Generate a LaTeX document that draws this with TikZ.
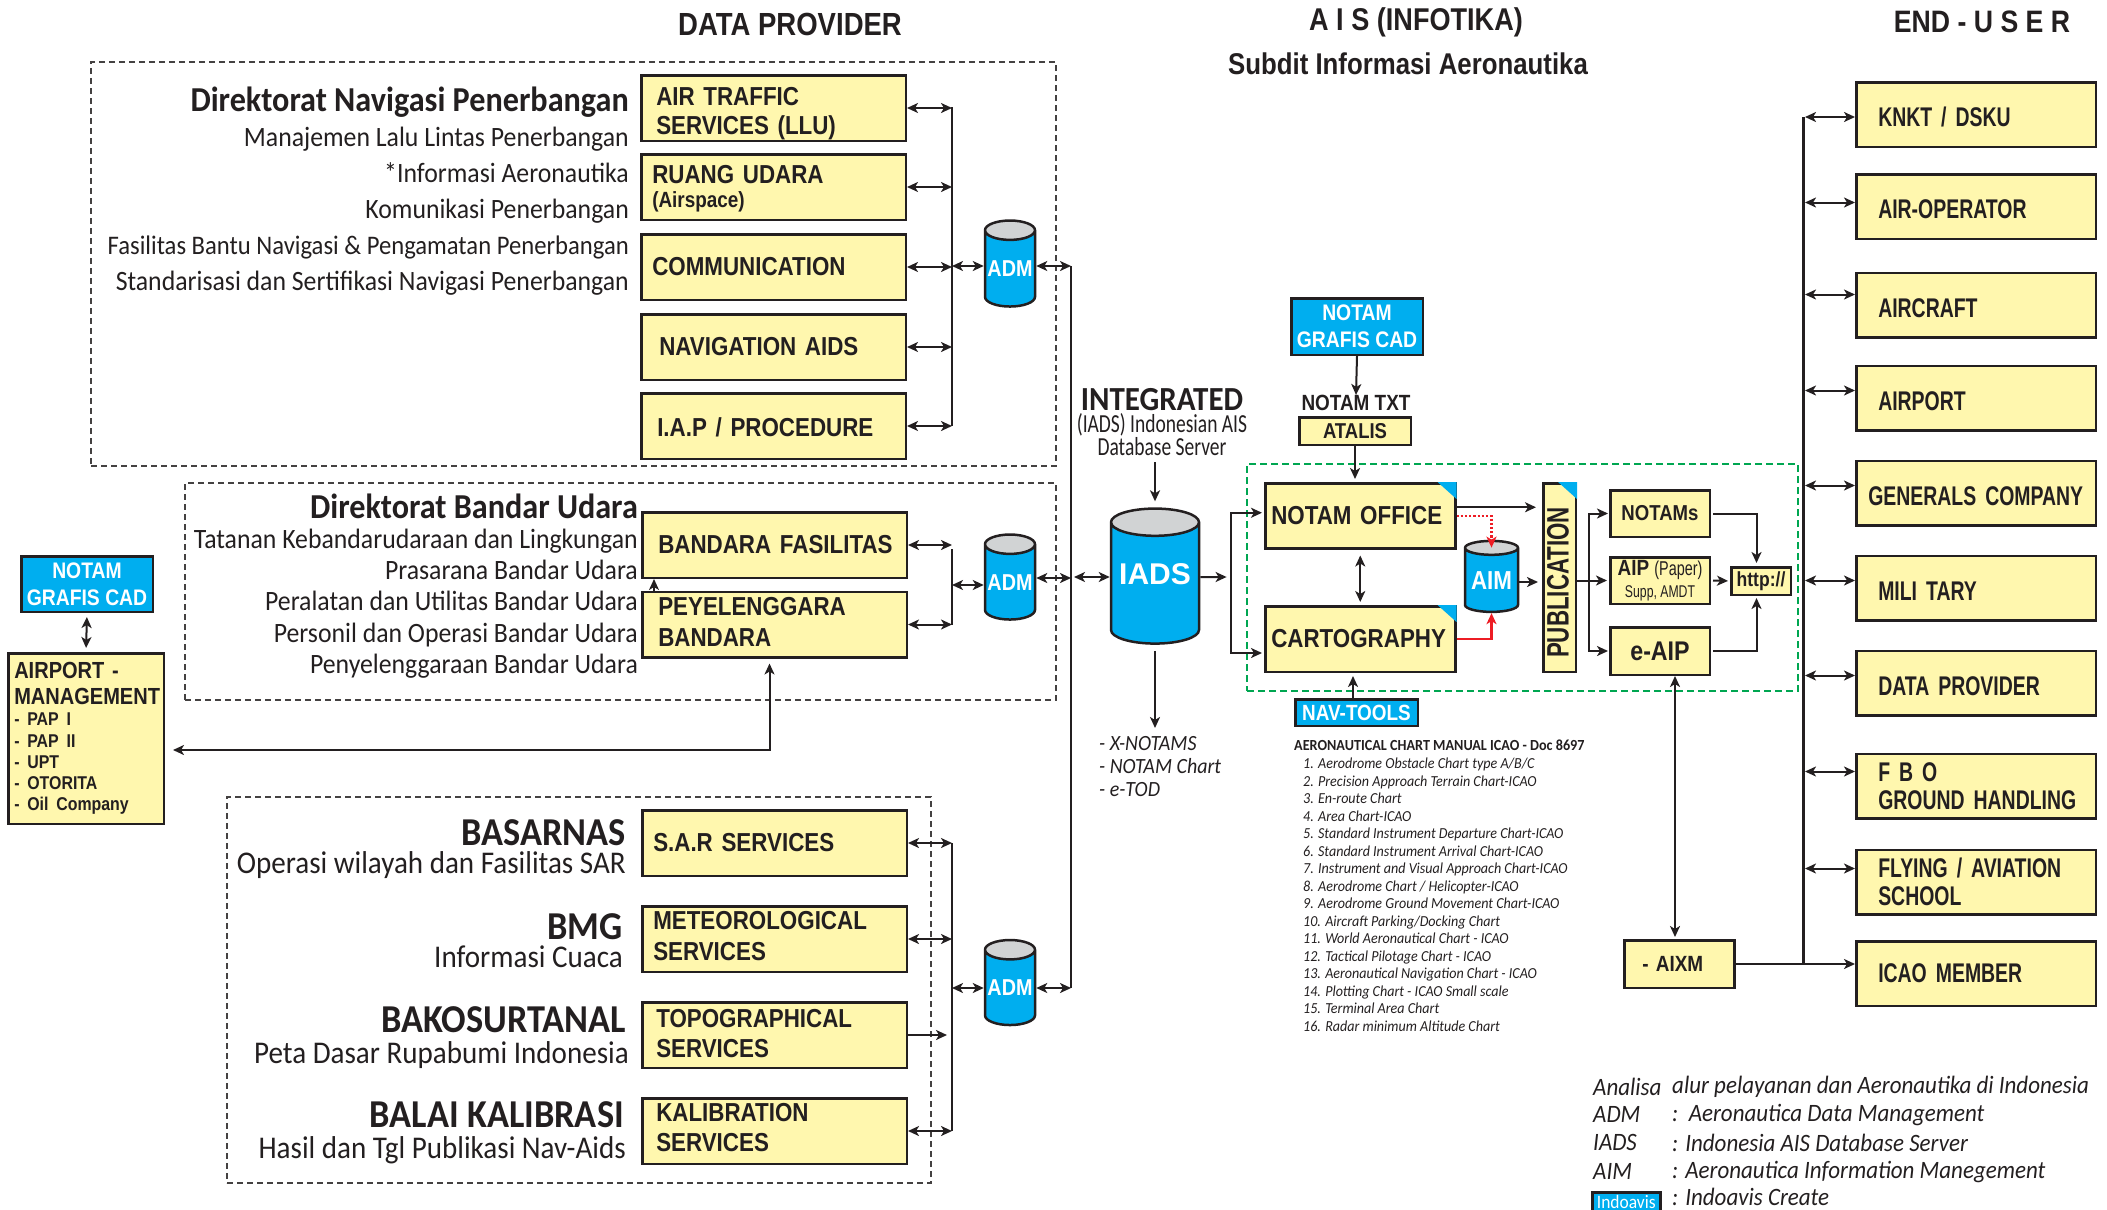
\documentclass[tikz,border=0pt]{standalone}
\usepackage{fontspec}
\setmainfont[FakeStretch=0.92]{Carlito}
\newfontfamily\narrowfont[FakeStretch=0.75]{Carlito}
\newfontfamily\boxfont[FakeStretch=0.86]{Liberation Sans}
\newfontfamily\pubfont[FakeStretch=0.72]{Liberation Sans}
\newfontfamily\widefont{Liberation Sans}
\usetikzlibrary{positioning,arrows.meta,shapes.geometric,calc}
\definecolor{ybox}{HTML}{FFF7AE}
\definecolor{cbox}{HTML}{00AEEF}
\definecolor{inkc}{HTML}{231F20}
\definecolor{capc}{HTML}{D1D3D4}
\definecolor{greenc}{HTML}{00A651}
\definecolor{redc}{HTML}{ED1C24}
\newcommand\fs[2]{\fontsize{#1}{#2}\selectfont}
\tikzstyle{yellowbox}=[rectangle, draw=inkc, fill=ybox, line width=2.5pt, text=inkc, minimum height=65.5pt, inner ysep=0pt, align=left, font=\boxfont\bfseries\fs{26}{29}]
\tikzstyle{enduser}=[yellowbox, minimum height=64.5pt, inner xsep=22pt, text width=195.5pt, font=\pubfont\bfseries\fs{27}{28}]
\tikzstyle{bluebox}=[rectangle, draw=inkc, fill=cbox, line width=2.5pt, text=white, inner sep=0pt, align=center, font=\boxfont\bfseries\fs{22.5}{27}]
\tikzstyle{dashbox}=[rectangle, draw=inkc!85, line width=2pt, dash pattern=on 6pt off 4pt, inner sep=0pt]
\tikzstyle{store}=[cylinder, shape border rotate=90, draw=inkc, line width=2.5pt, cylinder uses custom fill, cylinder end fill=capc, cylinder body fill=cbox, inner sep=0pt, text=white]
\tikzstyle{dirtitle}=[anchor=east, inner sep=0pt, text=inkc, font=\bfseries\fs{35}{38}]
\tikzstyle{suptitle}=[dirtitle, font=\bfseries\fs{39.5}{42}]
\tikzstyle{dirtext}=[anchor=east, inner sep=0pt, text=inkc, align=right, font=\fs{28}{36}]
\tikzstyle{suptext}=[dirtext, font=\fs{31.6}{36}]
\tikzstyle{head}=[inner sep=0pt, text=inkc, font=\boxfont\bfseries\fs{30}{34}]
\tikzstyle{listtext}=[anchor=north west, inner sep=0pt, text=inkc, align=left]
\tikzstyle{legend}=[anchor=west, inner sep=0pt, text=inkc, font=\itshape\fs{25}{28}]
\tikzstyle{line}=[-, draw=inkc, line width=1.7pt]
\tikzstyle{aline}=[-{Stealth[length=11pt,width=10pt,inset=3pt]}, draw=inkc, line width=2pt]
\tikzstyle{dline}=[{Stealth[length=11pt,width=10pt,inset=3pt]}-{Stealth[length=11pt,width=10pt,inset=3pt]}, draw=inkc, line width=2pt]
\tikzstyle{redline}=[-{Stealth[length=11pt,width=10pt,inset=3pt]}, draw=redc, line width=2.2pt]
\begin{document}
\begin{tikzpicture}[x=1pt, y=-1pt, node distance=0pt]
\useasboundingbox (0,0) rectangle (2107,1210);

% dashed groups
    \node (dirnav) [dashbox, minimum width=965pt, minimum height=404pt] at (573.5,264) {};
    \node (dirbdr) [dashbox, minimum width=871pt, minimum height=217pt] at (620.5,591.5) {};
    \node (dirsup) [dashbox, minimum width=704pt, minimum height=386pt] at (579,990) {};
    \node (ais) [dashbox, draw=greenc, line width=2.5pt, dash pattern=on 7pt off 4pt, minimum width=551pt, minimum height=227pt] at (1522.5,577.5) {};

% headings
    \node (headdp) [head, font=\boxfont\bfseries\fs{32}{34}] at (790,24) {DATA PROVIDER};
    \node (headais) [head, font=\boxfont\bfseries\fs{31.5}{34}] at (1416,22.5) {A I S (INFOTIKA)};
    \node (headsub) [head] at (1408,64) {Subdit Informasi Aeronautika};
    \node (headeu) [head, font=\boxfont\bfseries\fs{31}{34}] at (1982,22) {END - U S E R};

% navigasi
    \node (ats) [yellowbox, anchor=north west, inner xsep=15pt, text width=234.5pt] at (640,74) {\rule{0pt}{30pt}AIR TRAFFIC\\SERVICES (LLU)};
    \node (ruang) [yellowbox, below=11pt of ats, inner xsep=11pt, text width=242.5pt] {\rule{0pt}{21.5pt}RUANG UDARA\\[-5pt]{\fs{22}{24}(Airspace)}};
    \node (comm) [yellowbox, below=12pt of ruang, inner xsep=11pt, text width=242.5pt] {COMMUNICATION};
    \node (navaids) [yellowbox, below=12pt of comm, inner xsep=18pt, text width=228.5pt] {NAVIGATION AIDS};
    \node (iap) [yellowbox, below=11pt of navaids, inner xsep=16pt, text width=232.5pt] {\rule{0pt}{21.5pt}I.A.P / PROCEDURE};

    \node (navt) [dirtitle] at (629,102) {Direktorat Navigasi Penerbangan};
    \node (navl) [dirtext] at (629,211.5) {Manajemen Lalu Lintas Penerbangan\\*Informasi Aeronautika\\Komunikasi Penerbangan\\{\fs{26.8}{36}Fasilitas Bantu Navigasi \& Pengamatan Penerbangan}\\Standarisasi dan Sertifikasi Navigasi Penerbangan};

% bandar udara
    \node (bandara) [yellowbox, anchor=north west, inner xsep=16pt, text width=232.5pt] at (641,511) {\mbox{BANDARA FASILITAS}};
    \node (peye) [yellowbox, below=11.5pt of bandara, inner xsep=16pt, text width=232.5pt, font=\boxfont\bfseries\fs{26}{30.5}] {PEYELENGGARA\\BANDARA\par\vspace*{5pt}};

    \node (bdrt) [dirtitle] at (638,506) {Direktorat Bandar Udara};
    \node (bdrl) [dirtext, font=\fs{28}{31.2}] at (638,603.5) {Tatanan Kebandarudaraan dan Lingkungan\\Prasarana Bandar Udara\\Peralatan dan Utilitas Bandar Udara\\Personil dan Operasi Bandar Udara\\Penyelenggaraan Bandar Udara};

% pendukung
    \node (sar) [yellowbox, anchor=north west, inner xsep=11pt, text width=242.5pt] at (641,809) {S.A.R SERVICES};
    \node (met) [yellowbox, below=28pt of sar, inner xsep=11pt, text width=242.5pt, font=\boxfont\bfseries\fs{26}{30.5}] {METEOROLOGICAL\\SERVICES\par\vspace*{6pt}};
    \node (topo) [yellowbox, below=28pt of met, inner xsep=14pt, text width=236.5pt, font=\boxfont\bfseries\fs{26}{30.5}] {TOPOGRAPHICAL\\SERVICES\par\vspace*{3pt}};
    \node (kal) [yellowbox, below=28pt of topo, inner xsep=14pt, text width=236.5pt, font=\boxfont\bfseries\fs{26}{30.5}] {KALIBRATION\\SERVICES\par\vspace*{7pt}};

    \node (sart) [suptitle] at (626,833) {BASARNAS};
    \node (sarl) [suptext] at (626,865.5) {Operasi wilayah dan Fasilitas SAR};
    \node (bmgt) [suptitle] at (623,927) {BMG};
    \node (bmgl) [suptext] at (623,957) {Informasi Cuaca};
    \node (bakt) [suptitle] at (626,1020) {BAKOSURTANAL};
    \node (bakl) [suptext] at (629,1055) {Peta Dasar Rupabumi Indonesia};
    \node (balt) [suptitle] at (624,1115) {BALAI KALIBRASI};
    \node (ball) [suptext] at (626,1150) {Hasil dan Tgl Publikasi Nav-Aids};

% airport
    \node (notaml) [bluebox, minimum width=131.5pt, minimum height=55.5pt] at (87,584) {NOTAM\\GRAFIS CAD};
    \node (airportm) [yellowbox, anchor=north west, inner xsep=6pt, text width=143.5pt, minimum height=170.5pt, font=\boxfont\bfseries\fs{23.3}{26}] at (7,652) {AIRPORT -\\MANAGEMENT\\{\fs{18.5}{21.3}- PAP I\\- PAP II\\- UPT\\- OTORITA\\- Oil Company\par}};

% stores
    \node (admnav) [store, minimum width=50pt, minimum height=86pt, aspect=0.43, font=\boxfont\bfseries\fs{23}{26}] at (1010,269) {ADM};
    \node (admbdr) [store, minimum width=50pt, minimum height=85pt, aspect=0.43, font=\boxfont\bfseries\fs{23}{26}] at (1010,582.5) {ADM};
    \node (admsup) [store, minimum width=50pt, minimum height=85pt, aspect=0.43, font=\boxfont\bfseries\fs{23}{26}] at (1010,988) {ADM};
    \node (iads) [store, minimum width=88pt, minimum height=135pt, aspect=0.38, font=\widefont\bfseries\fs{30}{32}] at (1155,583.5) {\raisebox{19pt}{IADS}};

    \node (intt) [inner sep=0pt, text=inkc, font=\bfseries\fs{33.7}{36}] at (1162,400) {INTEGRATED};
    \node (intl) [inner sep=0pt, text=inkc, align=center, font=\narrowfont\fs{26}{23}] at (1162,435) {(IADS) Indonesian AIS\\Database Server};
    \node (iadsout) [listtext, font=\itshape\fs{21.7}{23}] at (1099,736) {- X-NOTAMS\\- NOTAM Chart\\- e-TOD};

% infotika
    \node (notamg) [bluebox, minimum width=131.5pt, minimum height=56.5pt] at (1357,326.5) {NOTAM\\GRAFIS CAD};
    \node (notamtxt) [inner sep=0pt, text=inkc, font=\boxfont\bfseries\fs{22}{24}] at (1356,403) {NOTAM TXT};
    \node (atalis) [yellowbox, minimum width=111.5pt, minimum height=27.5pt, font=\boxfont\bfseries\fs{21.5}{24}] at (1355,431) {ATALIS};
    \node (notam) [yellowbox, anchor=north west, inner xsep=6pt, text width=178pt, minimum height=65pt] at (1264,482) {NOTAM OFFICE};
    \node (carto) [yellowbox, anchor=north west, inner xsep=6pt, text width=178pt, minimum height=65.5pt] at (1264,605) {CARTOGRAPHY};
    \node (aim) [store, minimum width=53pt, minimum height=71pt, aspect=0.34, font=\boxfont\bfseries\fs{26}{28}] at (1491.5,580.5) {AIM};
    \node (pub) [yellowbox, minimum width=32.5pt, minimum height=188.5pt, inner sep=0pt] at (1559.5,577.5) {};
    \node (publabel) [rotate=90, inner sep=0pt, text=inkc, font=\pubfont\bfseries\fs{31}{32}] at ($(pub.center)+(-1.5,5)$) {PUBLICATION};
    \node (notams) [yellowbox, minimum width=99.5pt, minimum height=46.5pt, font=\boxfont\bfseries\fs{21.6}{24}] at (1660,513.5) {NOTAMs};
    \node (aip) [yellowbox, minimum width=99.5pt, minimum height=46.5pt, align=center, font=\boxfont\bfseries\fs{22}{24}] at (1660,580.5) {AIP {\pubfont\mdseries\fs{20}{24}(Paper)}\\[-2pt]{\pubfont\mdseries\fs{17}{19}Supp, AMDT}};
    \node (eaip) [yellowbox, minimum width=99.5pt, minimum height=47.5pt, font=\boxfont\bfseries\fs{27}{28}] at (1660,651) {e-AIP};
    \node (http) [yellowbox, minimum width=59.5pt, minimum height=27.5pt, font=\boxfont\bfseries\fs{20.4}{22}] at (1761,581) {http://};
    \node (navtools) [bluebox, minimum width=122.5pt, minimum height=26.5pt, font=\boxfont\bfseries\fs{22}{24}] at (1356.5,712.5) {NAV-TOOLS};
    \node (aixm) [yellowbox, anchor=north west, inner xsep=18pt, text width=74pt, minimum height=47.5pt, font=\boxfont\bfseries\fs{22}{24}] at (1623,939) {- AIXM};

    \node (chartt) [listtext, font=\bfseries\fs{15.4}{17}] at (1294,740) {AERONAUTICAL CHART MANUAL ICAO - Doc 8697};
    \node (chartl) [listtext, below right=7pt and 9pt of chartt.south west, font=\itshape\fs{15.3}{17.5}] {1. Aerodrome Obstacle Chart type A/B/C\\2. Precision Approach Terrain Chart-ICAO\\3. En-route Chart\\4. Area Chart-ICAO\\5. Standard Instrument Departure Chart-ICAO\\6. Standard Instrument Arrival Chart-ICAO\\7. Instrument and Visual Approach Chart-ICAO\\8. Aerodrome Chart / Helicopter-ICAO\\9. Aerodrome Ground Movement Chart-ICAO\\10. Aircraft Parking/Docking Chart\\11. World Aeronautical Chart - ICAO\\12. Tactical Pilotage Chart - ICAO\\13. Aeronautical Navigation Chart - ICAO\\14. Plotting Chart - ICAO Small scale\\15. Terminal Area Chart\\16. Radar minimum Altitude Chart};

% end users
    \node (knkt) [enduser, anchor=north west] at (1855,81) {\rule{0pt}{25pt}KNKT / DSKU};
    \node (airop) [enduser, below=25pt of knkt] {\rule{0pt}{25pt}AIR-OPERATOR};
    \node (aircraft) [enduser, below=31.5pt of airop] {\rule{0pt}{25pt}AIRCRAFT};
    \node (airprt) [enduser, below=26pt of aircraft] {\rule{0pt}{25pt}AIRPORT};
    \node (generals) [enduser, below=28pt of airprt, inner xsep=12pt, text width=215.5pt] {\rule{0pt}{25pt}GENERALS COMPANY};
    \node (military) [enduser, below=28pt of generals] {\rule{0pt}{25pt}MILI TARY};
    \node (dataprov) [enduser, below=28pt of military] {\rule{0pt}{25pt}DATA PROVIDER};
    \node (fbo) [enduser, below=36pt of dataprov] {F B O\\\mbox{GROUND HANDLING}};
    \node (flying) [enduser, below=29pt of fbo] {FLYING / AVIATION\\SCHOOL};
    \node (icao) [enduser, below=24.5pt of flying] {ICAO MEMBER};

% legend
    \node (lga) [legend] at (1593,1086.5) {Analisa};
    \node (lgb) [legend] at (1672,1086.5) {alur pelayanan dan Aeronautika di Indonesia};
    \node (lgc) [legend] at (1593,1114.5) {ADM};
    \node (lgd) [legend] at (1672,1114.5) {:\ \ Aeronautica Data Management};
    \node (lge) [legend] at (1593,1142.5) {IADS};
    \node (lgf) [legend] at (1672,1142.5) {: Indonesia AIS Database Server};
    \node (lgg) [legend] at (1593,1171.5) {AIM};
    \node (lgh) [legend] at (1672,1171.5) {: Aeronautica Information Manegement};
    \node (indo) [bluebox, anchor=north west, minimum width=68pt, minimum height=19pt, font=\fs{19}{20}] at (1591,1191) {Indoavis};
    \node (lgi) [legend] at (1672,1197) {: Indoavis Create};

% corner flags
    \fill[cbox] (notam.north east) -- ++(-19,0) -- ++(19,17) -- cycle;
    \fill[cbox] (carto.north east) -- ++(-19,0) -- ++(19,17) -- cycle;
    \fill[cbox] (pub.north east) -- ++(-19,0) -- ++(19,17) -- cycle;

    \coordinate (navbus) at (952,107);
    \coordinate (bdrbus) at (952,549);
    \coordinate (supbus) at (952,843);
    \coordinate (trunk) at (1071,266);
    \coordinate (iadssplit) at (1230.6,577);
    \coordinate (pubsplit) at (1589,582);
    \coordinate (endbus) at (1803,117);

% bus lines
   \draw[line] (navbus) -- (navbus |- iap.east);
   \draw[line] (bdrbus) -- (bdrbus |- peye.east);
   \draw[line] (supbus) -- (supbus |- kal.east);
   \draw[line, line width=2.2pt] (trunk) -- (trunk |- admsup.east);
   \draw[line, line width=3pt] (endbus) -- (endbus |- aixm.east);

   \foreach \n in {ats,ruang,comm,navaids,iap}
       \draw[dline] (\n.east) -- (\n.east -| navbus);
   \foreach \n in {bandara,peye}
       \draw[dline] (\n.east) -- (\n.east -| bdrbus);
   \foreach \n in {sar,met,kal}
       \draw[dline] (\n.east) -- (\n.east -| supbus);
   \draw[aline] (topo.east) -- ([xshift=-5pt]topo.east -| supbus);

%adm lines
   \draw[dline] ([yshift=3pt]admnav.west) -- ([yshift=3pt]admnav.west -| navbus);
   \draw[dline] ([yshift=-2.5pt]admbdr.west) -- ([yshift=-2.5pt]admbdr.west -| bdrbus);
   \draw[dline] (admsup.west) -- (admsup.west -| supbus);
   \draw[dline] ([yshift=3pt]admnav.east) -- ([yshift=3pt]admnav.east -| trunk);
   \draw[dline] ([yshift=4.5pt]admbdr.east) -- ([yshift=4.5pt]admbdr.east -| trunk);
   \draw[dline] (admsup.east) -- (admsup.east -| trunk);
   \draw[dline, shorten <=3pt] ([yshift=6.5pt]iads.west -| trunk) -- ([yshift=6.5pt]iads.west);

%airport lines
   \draw[aline, line width=1.5pt] (peye.north -| 654,0) -- (bandara.south -| 654,0);
   \draw[dline, shorten <=5pt, shorten >=8pt] ([xshift=-5pt]peye.south) |- ([yshift=-11.5pt]airportm.east);
   \draw[dline, shorten <=4pt, shorten >=4pt] (notaml.south) -- (airportm.north);

%iads lines
   \draw[aline] (iads.north |- 0,462) -- ([yshift=6pt]iads.north);
   \draw[aline, shorten <=6pt] (iads.south) -- (iads.south |- 0,728);
   \draw[aline, shorten >=4pt] ([yshift=6.5pt]iads.east) -- (iadssplit);
   \draw[aline, shorten >=2pt] (iadssplit) |- ([yshift=3pt]notam.west);
   \draw[aline, shorten >=2pt] (iadssplit) |- ([yshift=-14pt]carto.west);

%infotika lines
   \draw[aline] (notamg.south) -- (notamtxt.north);
   \draw[aline, shorten >=3pt] (atalis.south) -- (notam.north -| atalis.south);
   \draw[dline, shorten <=6pt, shorten >=3pt] (notam.south) -- (carto.north);
   \draw[aline, shorten >=3pt] (navtools.north -| 1353,0) -- (carto.south -| 1353,0);
   \draw[aline, shorten >=6pt] ([yshift=8.5pt]notam.east) -- ([yshift=8.5pt]notam.east -| pub.west);
   \draw[redline, dotted, line width=2.2pt] (notam.east) -| ([yshift=-8pt]aim.north);
   \draw[redline] (carto.east) -| (aim.south);
   \draw[aline, shorten >=4pt] ([yshift=-1.5pt]aim.east) -- ([yshift=-1.5pt]aim.east -| pub.west);
   \draw[aline, shorten >=2pt] (pub.east |- aip.west) -- (aip.west);
   \draw[aline, shorten >=1pt] (pubsplit) |- (notams.west);
   \draw[aline, shorten >=1pt] (pubsplit) |- (eaip.west);
   \draw[aline, shorten <=2pt, shorten >=3pt] (notams.east) -| ([xshift=-4.5pt]http.north);
   \draw[aline, shorten <=2pt, shorten >=2pt] (aip.east) -- (http.west);
   \draw[aline, shorten <=2pt, shorten >=2pt] (eaip.east) -| ([xshift=-4.5pt]http.south);
   \draw[dline, shorten >=2pt] ([xshift=15pt]eaip.south) -- ([xshift=15pt]eaip.south |- aixm.north);
   \draw[aline, line width=2.6pt] (aixm.east) -- (aixm.east -| icao.west);

%end user lines
   \foreach \n/\s in {knkt/-2.5,airop/4,aircraft/10.5,airprt/7.5,generals/7.5,military/7.5,dataprov/7.5,fbo/14.5,flying/13.5}
       \draw[dline, shorten <=2pt] ([yshift=\s pt]\n.west -| endbus) -- ([yshift=\s pt]\n.west);

\end{tikzpicture}
\end{document}
